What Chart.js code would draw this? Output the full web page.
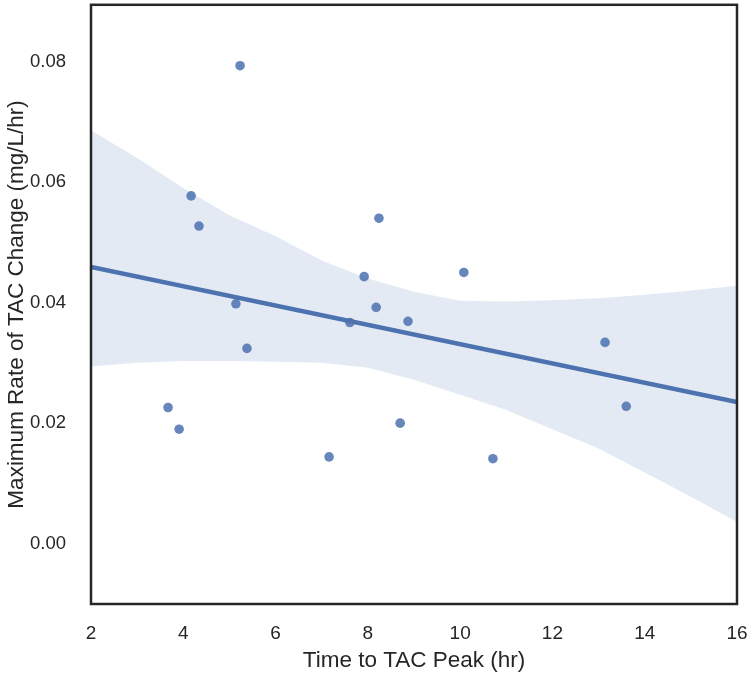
<!DOCTYPE html>
<html>
<head>
<meta charset="utf-8">
<script src="https://cdn.jsdelivr.net/npm/chart.js@4.4.1/dist/chart.umd.min.js"></script>
<style>
    html, body { margin: 0; padding: 0; background: #fff; }
    #wrap { width: 750px; height: 674px; }
</style>
</head>
<body>
<div id="wrap"><canvas id="regChart" width="750" height="674"></canvas></div>
<script>
// scatter points: time to peak (hr) vs max rate (mg/L/hr)
const peakTime = [5.23, 4.17, 4.34, 5.14, 5.38, 3.67, 3.91, 7.16, 7.61, 7.92, 8.24, 8.18, 8.87, 8.70, 10.08, 10.71, 13.14, 13.60];
const maxRate  = [0.0793, 0.0577, 0.0527, 0.0398, 0.0324, 0.0226, 0.0190, 0.0144, 0.0367, 0.0443, 0.0540, 0.0392, 0.0369, 0.0200, 0.0450, 0.0141, 0.0334, 0.0228];

// fitted line ends
const fitX = [2, 16];
const fitY = [0.0459, 0.0235];

// confidence band
const bandX     = [2, 3, 4, 5, 6, 7, 8, 9, 10, 11, 12, 13, 14, 15, 16];
const bandUpper = [0.0686, 0.0640, 0.0590, 0.0545, 0.0510, 0.0470, 0.0440, 0.0418, 0.0403, 0.0402, 0.0404, 0.0407, 0.0413, 0.0420, 0.0428];
const bandLower = [0.0294, 0.0300, 0.0303, 0.0303, 0.0302, 0.0300, 0.0292, 0.0272, 0.0247, 0.0222, 0.0190, 0.0158, 0.0118, 0.0078, 0.0036];

const yTicks = [0, 0.02, 0.04, 0.06, 0.08];

const pairs = (xs, ys) => xs.map((x, i) => ({ x: x, y: ys[i] }));

// box around the plot area
const frame = {
    id: 'frame',
    afterDraw(chart) {
        const a = chart.chartArea;
        const ctx = chart.ctx;
        ctx.save();
        ctx.strokeStyle = '#262626';
        ctx.lineWidth = 2.5;
        ctx.strokeRect(a.left, a.top, a.right - a.left, a.bottom - a.top);
        ctx.restore();
    }
};

const font = 'Liberation Sans, Arial, sans-serif';

new Chart(document.getElementById('regChart'), {
    type: 'scatter',
    data: {
        datasets: [
            {
                data: pairs(peakTime, maxRate),
                backgroundColor: 'rgba(76,114,176,0.85)',
                borderWidth: 0,
                pointRadius: 4.8,
                order: 0
            },
            {
                type: 'line',
                data: pairs(fitX, fitY),
                borderColor: '#4c72b0',
                borderWidth: 4.5,
                pointRadius: 0,
                fill: false,
                order: 1
            },
            {
                type: 'line',
                data: pairs(bandX, bandUpper),
                borderWidth: 0,
                borderColor: 'rgba(0,0,0,0)',
                backgroundColor: 'rgba(76,114,176,0.15)',
                pointRadius: 0,
                fill: '+1',
                order: 2
            },
            {
                type: 'line',
                data: pairs(bandX, bandLower),
                borderWidth: 0,
                borderColor: 'rgba(0,0,0,0)',
                pointRadius: 0,
                fill: false,
                order: 3
            }
        ]
    },
    options: {
        responsive: false,
        animation: false,
        layout: { padding: { left: 0, right: 13, top: 4, bottom: 0 } },
        scales: {
            x: {
                min: 2,
                max: 16,
                grid: { display: false },
                border: { display: false },
                ticks: { stepSize: 2, color: '#262626', padding: 10, font: { family: font, size: 19 } },
                title: { display: true, text: 'Time to TAC Peak (hr)', color: '#262626', padding: { top: 0, bottom: 0 }, font: { family: font, size: 22.5 } },
                afterFit(scale) {
                    scale.height = 70;
                    scale.paddingLeft = 0;
                    scale.paddingRight = 0;
                }
            },
            y: {
                min: -0.01,
                max: 0.0894,
                grid: { display: false },
                border: { display: false },
                afterBuildTicks(scale) { scale.ticks = yTicks.map(v => ({ value: v })); },
                ticks: {
                    color: '#262626',
                    padding: 17,
                    font: { family: font, size: 18.5 },
                    callback: v => v.toFixed(2)
                },
                title: { display: true, text: 'Maximum Rate of TAC Change (mg/L/hr)', color: '#262626', padding: { top: 3, bottom: 0 }, font: { family: font, size: 22.5 } },
                afterFit(scale) {
                    scale.width = 91;
                    scale.paddingTop = 0;
                    scale.paddingBottom = 0;
                }
            }
        },
        plugins: {
            legend: { display: false },
            tooltip: { enabled: false }
        }
    },
    plugins: [frame]
});
</script>
</body>
</html>
